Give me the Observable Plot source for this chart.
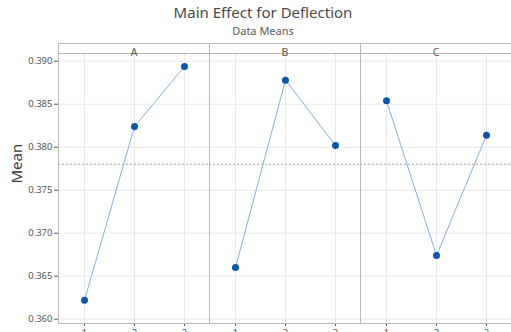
<!DOCTYPE html>
<html><head><meta charset="utf-8">
<script src="https://cdn.jsdelivr.net/npm/d3@7"></script>
<script src="https://cdn.jsdelivr.net/npm/@observablehq/plot@0.6"></script>
<style>
html,body{margin:0;padding:0;background:#fff;font-family:"Noto Sans",sans-serif;}
#head{position:relative;width:511px;height:43px;}
#head .t{position:absolute;left:0;width:526px;text-align:center;top:3px;font-size:15px;line-height:19px;color:#4a4a4a;}
#head .s{position:absolute;left:0;width:526px;text-align:center;top:24px;font-size:11px;line-height:13px;color:#5a5a5a;}
</style>
</head><body>
<div id="head"><div class="t">Main Effect for Deflection</div><div class="s">Data Means</div></div>
<div id="chart"></div>
<script>
const factors = ["A", "B", "C"];
const levels = [1, 2, 3];
const meansA = [0.3622, 0.3824, 0.3894];
const meansB = [0.3660, 0.3878, 0.3802];
const meansC = [0.3854, 0.3674, 0.3814];
const yTicks = [0.360, 0.365, 0.370, 0.375, 0.380, 0.385, 0.390];
const yLabel = "Mean";

const series = {A: meansA, B: meansB, C: meansC};
const data = factors.flatMap(f => levels.map((l, i) => ({factor: f, level: l, mean: series[f][i]})));
const grandMean = d3.mean(data, d => d.mean);

const frameColor = "#b8b8b8";
const gridColor = "#e8e8e8";

const chart = Plot.plot({
  width: 511,
  height: 289,
  marginTop: 10,
  marginBottom: 9,
  marginLeft: 58,
  marginRight: 0,
  style: {fontFamily: "Noto Sans", fontSize: "9.5px", color: "#555", background: "#fff"},
  fx: {domain: factors, padding: 0, axis: null},
  x: {domain: levels, type: "point", padding: 0.5, label: null, tickSize: 3, tickPadding: 3},
  y: {domain: [0.3595, 0.3909], ticks: yTicks, tickFormat: ".3f", label: null, tickSize: 4, tickPadding: 2},
  marks: [
    Plot.ruleX(levels, {x: d => d, stroke: gridColor, strokeWidth: 1}),
    Plot.ruleY(yTicks, {y: d => d, stroke: gridColor, strokeWidth: 1}),
    Plot.ruleY([grandMean], {y: d => d, stroke: "#a0a0a0", strokeDasharray: "2,2", strokeWidth: 1}),
    Plot.frame({stroke: frameColor}),
    Plot.frame({stroke: frameColor, insetTop: -10}),
    Plot.text(factors, {fx: d => d, text: d => d, frameAnchor: "top", dy: -5, fontSize: 10.5, fill: "#555"}),
    Plot.text([yLabel], {fx: () => "A", text: d => d, frameAnchor: "left", rotate: -90, dx: -41, dy: -5, fontSize: 15, fill: "#3a3a3a"}),
    Plot.line(data, {fx: "factor", x: "level", y: "mean", stroke: "#82b0de", strokeWidth: 1}),
    Plot.dot(data, {fx: "factor", x: "level", y: "mean", fill: "#0a56a8", stroke: "none", r: 3.5})
  ]
});
document.getElementById("chart").appendChild(chart);
</script>
</body></html>
